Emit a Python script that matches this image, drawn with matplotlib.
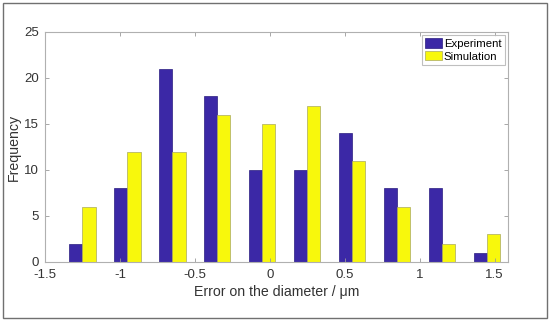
import numpy as np
import matplotlib
matplotlib.use("Agg")
import matplotlib.pyplot as plt
from matplotlib.patches import Rectangle

# ---- data ----
bin_centers = [-1.25, -0.95, -0.65, -0.35, -0.05, 0.25, 0.55, 0.85, 1.15, 1.45]
experiment = [2, 8, 21, 18, 10, 10, 14, 8, 8, 1]
simulation = [6, 12, 12, 16, 15, 17, 11, 6, 2, 3]
series_names = ["Experiment", "Simulation"]

plt.rcParams["font.family"] = ["Liberation Sans", "DejaVu Sans"]

fig = plt.figure(figsize=(5.5, 3.21), dpi=100)
ax = fig.add_axes([45 / 550, 1 - 262 / 321, 463 / 550, 230 / 321])

w = 0.088
x = np.array(bin_centers)
ax.bar(x - w / 2, experiment, width=w, color="#3b28a6", edgecolor="#2a1d80",
       linewidth=0.5, label=series_names[0])
ax.bar(x + w / 2, simulation, width=w, color="#f8f80c", edgecolor="#a8a860",
       linewidth=0.5, label=series_names[1])

ax.set_xlim(-1.5, 1.59)
ax.set_ylim(0, 25)
ax.set_xticks([-1.5, -1, -0.5, 0, 0.5, 1, 1.5])
ax.set_xticklabels(["-1.5", "-1", "-0.5", "0", "0.5", "1", "1.5"])
ax.set_yticks([0, 5, 10, 15, 20, 25])
ax.tick_params(direction="in", top=True, right=True, length=3, width=0.6,
               color="#999999", labelsize=9.5, labelcolor="#333333")
ax.tick_params(axis="x", pad=5.2)
ax.tick_params(axis="y", pad=4.5)
for s in ax.spines.values():
    s.set_color("#b0b0b0")
    s.set_linewidth(0.8)

ax.set_xlabel("Error on the diameter / μm", fontsize=10.2, color="#333333", labelpad=3)
ax.set_ylabel("Frequency", fontsize=10.2, color="#333333", labelpad=2)

leg = ax.legend(loc="upper right", fontsize=8.2, frameon=True, fancybox=False,
                borderaxespad=0.27, handlelength=1.5, handleheight=0.85,
                handletextpad=0.15, borderpad=0.3, labelspacing=0.2)
leg.get_frame().set_edgecolor("#b0b0b0")
leg.get_frame().set_linewidth(0.8)

# outer grey frame around the whole picture
fig.patches.append(Rectangle((0.006, 0.01), 0.988, 0.98, transform=fig.transFigure,
                             fill=False, edgecolor="#707070", linewidth=1.0))

fig.savefig("out.png", dpi=100)
